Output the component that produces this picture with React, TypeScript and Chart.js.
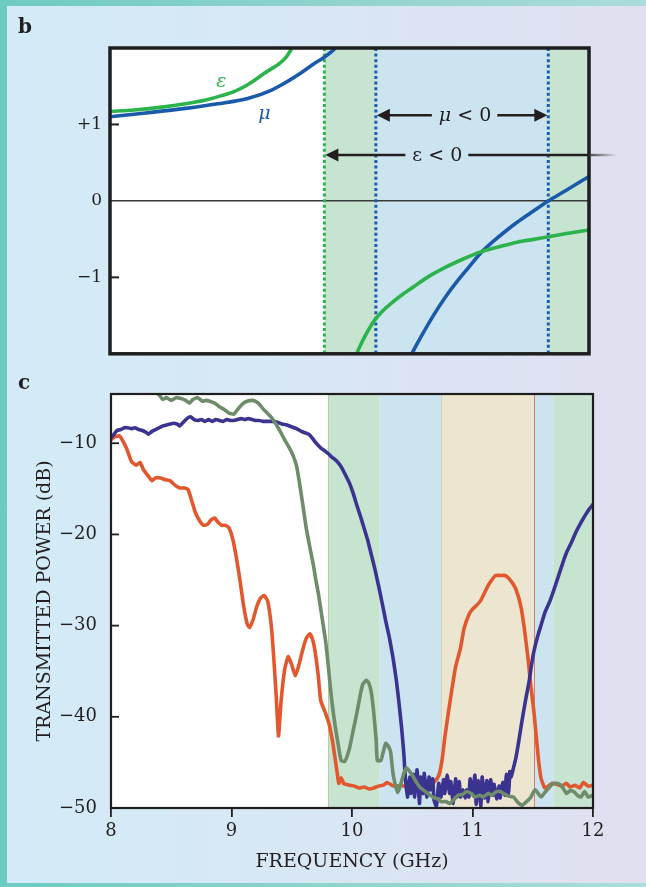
import React, { useEffect, useRef } from 'react';
import { Chart, registerables } from 'chart.js';

Chart.register(...registerables);

const SERIF = '"DejaVu Serif", "Liberation Serif", serif';
const INK = '#231f20';

// ---------- Panel b : ε and μ versus frequency (GHz) ----------
const epsLowFreq = [8.0, 8.2, 8.4, 8.63, 8.8, 8.94, 9.05, 9.15, 9.21, 9.28, 9.35, 9.4, 9.46, 9.52, 9.56];
const epsLowVal = [1.17, 1.19, 1.22, 1.27, 1.32, 1.38, 1.44, 1.52, 1.58, 1.66, 1.73, 1.78, 1.86, 2.0, 2.12];
const epsHighFreq = [10.0, 10.06, 10.1, 10.15, 10.21, 10.27, 10.34, 10.42, 10.52, 10.65, 10.8, 10.95, 11.09, 11.25, 11.4, 11.55, 11.66, 11.8, 12.0];
const epsHighVal = [-2.3, -2.0, -1.86, -1.71, -1.56, -1.45, -1.35, -1.25, -1.14, -1.0, -0.87, -0.76, -0.67, -0.6, -0.54, -0.5, -0.47, -0.43, -0.38];
const muLowFreq = [8.0, 8.3, 8.63, 8.9, 9.15, 9.35, 9.49, 9.6, 9.7, 9.78, 9.84, 9.9, 9.95];
const muLowVal = [1.1, 1.15, 1.21, 1.27, 1.34, 1.45, 1.57, 1.68, 1.79, 1.87, 1.94, 2.03, 2.15];
const muHighFreq = [10.45, 10.52, 10.6, 10.7, 10.8, 10.9, 11.0, 11.09, 11.2, 11.3, 11.4, 11.5, 11.66, 11.8, 12.0];
const muHighVal = [-2.22, -2.0, -1.77, -1.5, -1.26, -1.05, -0.86, -0.69, -0.53, -0.4, -0.28, -0.17, 0.0, 0.13, 0.32];
const bYTicks = [-1, 0, 1];
const epsNegFrom = 9.79; // ε < 0 above this frequency
const muNegFrom = 10.22; // μ < 0 between these
const muNegTo = 11.66;

// ---------- Panel c : transmitted power (dB) ----------
const freqTicks = [8, 9, 10, 11, 12];
const powerTicks = [-50, -40, -30, -20, -10];

const orangeFreq = [8.0, 8.03, 8.07, 8.1, 8.13, 8.17, 8.21, 8.24, 8.27, 8.31, 8.34, 8.37, 8.41, 8.45, 8.49, 8.53, 8.57, 8.61, 8.64, 8.67, 8.7, 8.74, 8.77, 8.8, 8.83, 8.86, 8.89, 8.92, 8.95, 8.98, 9.01, 9.04, 9.07, 9.1, 9.13, 9.15, 9.18, 9.21, 9.24, 9.27, 9.3, 9.33, 9.35, 9.37, 9.39, 9.41, 9.44, 9.47, 9.5, 9.53, 9.56, 9.59, 9.62, 9.65, 9.67, 9.69, 9.72, 9.74, 9.78, 9.81, 9.84, 9.86, 9.88, 9.89, 9.91, 9.93, 9.95, 9.98, 10.02, 10.06, 10.1, 10.14, 10.18, 10.22, 10.26, 10.29, 10.33, 10.37, 10.41, 10.45, 10.5, 10.55, 10.6, 10.64, 10.68, 10.71, 10.73, 10.75, 10.77, 10.8, 10.83, 10.86, 10.9, 10.93, 10.97, 11.0, 11.04, 11.07, 11.1, 11.13, 11.16, 11.19, 11.23, 11.27, 11.3, 11.33, 11.36, 11.4, 11.43, 11.46, 11.48, 11.51, 11.53, 11.55, 11.57, 11.6, 11.63, 11.66, 11.7, 11.74, 11.78, 11.81, 11.85, 11.89, 11.92, 11.96, 12.0];
const orangeDb = [-9.6, -9.3, -9.2, -9.8, -10.6, -12.0, -12.4, -12.1, -12.9, -13.6, -14.1, -13.8, -13.8, -14.0, -14.1, -14.6, -14.9, -14.9, -15.1, -16.3, -17.6, -18.6, -19.0, -18.9, -18.4, -18.2, -18.7, -19.0, -19.0, -19.3, -20.5, -22.5, -25.0, -27.8, -29.8, -30.2, -29.3, -27.9, -27.0, -26.7, -27.3, -30.0, -33.4, -37.5, -42.1, -38.5, -34.9, -33.4, -34.3, -35.5, -34.3, -32.7, -31.4, -30.9, -31.4, -32.5, -35.5, -38.2, -39.6, -40.8, -42.8, -44.6, -46.4, -47.3, -46.7, -47.3, -47.4, -47.5, -47.6, -47.8, -47.7, -47.9, -47.8, -47.6, -47.5, -47.2, -47.5, -47.6, -47.5, -47.7, -47.6, -47.8, -47.6, -47.8, -47.2, -46.7, -46.0, -44.5, -42.3, -39.5, -36.9, -34.5, -32.5, -30.3, -28.8, -28.2, -27.7, -27.2, -26.4, -25.6, -25.0, -24.5, -24.5, -24.5, -24.8, -25.3, -26.0, -27.8, -30.3, -33.5, -36.1, -39.5, -42.3, -45.0, -46.8, -47.8, -47.6, -47.3, -47.4, -47.6, -47.3, -47.7, -47.5, -47.8, -47.2, -47.6, -47.5];

const navyFreq = [8.0, 8.02, 8.05, 8.08, 8.11, 8.14, 8.17, 8.2, 8.23, 8.26, 8.29, 8.31, 8.34, 8.37, 8.4, 8.43, 8.46, 8.49, 8.52, 8.55, 8.57, 8.6, 8.63, 8.66, 8.69, 8.72, 8.75, 8.78, 8.81, 8.84, 8.87, 8.9, 8.93, 8.96, 8.99, 9.02, 9.05, 9.08, 9.11, 9.14, 9.17, 9.2, 9.23, 9.26, 9.3, 9.34, 9.38, 9.42, 9.46, 9.5, 9.54, 9.58, 9.62, 9.65, 9.68, 9.71, 9.74, 9.77, 9.8, 9.83, 9.86, 9.89, 9.92, 9.95, 9.98, 10.01, 10.04, 10.07, 10.1, 10.13, 10.16, 10.19, 10.22, 10.25, 10.28, 10.31, 10.34, 10.37, 10.39, 10.41, 10.43, 10.44, 10.46, 10.48, 10.49, 10.51, 10.52, 10.54, 10.56, 10.57, 10.59, 10.6, 10.62, 10.64, 10.65, 10.67, 10.68, 10.7, 10.72, 10.74, 10.76, 10.77, 10.79, 10.81, 10.82, 10.84, 10.86, 10.87, 10.89, 10.9, 10.92, 10.94, 10.95, 10.97, 10.98, 11.0, 11.02, 11.03, 11.05, 11.07, 11.08, 11.1, 11.12, 11.13, 11.15, 11.17, 11.18, 11.2, 11.22, 11.23, 11.25, 11.27, 11.28, 11.3, 11.31, 11.32, 11.34, 11.36, 11.38, 11.41, 11.44, 11.47, 11.49, 11.51, 11.54, 11.57, 11.6, 11.64, 11.68, 11.72, 11.75, 11.78, 11.82, 11.86, 11.9, 11.94, 11.97, 12.0];
const navyDb = [-9.4, -9.1, -8.6, -8.5, -8.3, -8.3, -8.4, -8.3, -8.5, -8.6, -8.8, -9.0, -8.7, -8.5, -8.3, -8.1, -8.0, -7.9, -7.8, -7.9, -8.1, -7.7, -7.3, -7.1, -7.4, -7.5, -7.4, -7.6, -7.4, -7.6, -7.4, -7.5, -7.6, -7.4, -7.5, -7.5, -7.4, -7.3, -7.4, -7.3, -7.4, -7.5, -7.5, -7.6, -7.6, -7.6, -7.7, -7.9, -8.0, -8.2, -8.4, -8.7, -8.9, -9.1, -9.6, -10.1, -10.5, -10.8, -11.1, -11.5, -11.8, -12.2, -12.8, -13.6, -14.4, -15.5, -16.8, -18.0, -19.3, -20.6, -22.2, -23.8, -25.6, -27.5, -29.5, -31.3, -33.5, -36.2, -38.5, -41.0, -44.0, -46.2, -48.8, -46.6, -48.4, -46.3, -48.8, -45.8, -49.5, -46.6, -48.4, -46.2, -48.8, -46.6, -48.0, -46.8, -49.1, -49.8, -47.3, -48.8, -46.9, -48.4, -46.4, -48.4, -47.1, -49.5, -46.8, -48.8, -47.1, -48.8, -48.0, -48.9, -48.0, -48.8, -46.8, -48.4, -46.4, -49.6, -47.0, -49.8, -46.6, -48.9, -47.0, -49.3, -46.9, -48.6, -47.4, -49.0, -47.6, -48.9, -47.2, -48.6, -46.3, -48.4, -46.0, -46.6, -45.6, -44.5, -43.0, -40.5, -38.2, -36.1, -34.3, -32.8, -31.2, -29.9, -28.6, -27.4, -25.9, -24.3, -23.1, -22.0, -20.9, -19.7, -18.7, -17.8, -17.2, -16.7];

const greenFreq = [8.0, 8.2, 8.35, 8.4, 8.43, 8.46, 8.5, 8.54, 8.58, 8.62, 8.65, 8.68, 8.72, 8.76, 8.79, 8.82, 8.86, 8.9, 8.94, 8.98, 9.02, 9.05, 9.09, 9.13, 9.17, 9.2, 9.23, 9.26, 9.29, 9.32, 9.36, 9.4, 9.44, 9.48, 9.51, 9.54, 9.56, 9.58, 9.6, 9.62, 9.65, 9.68, 9.7, 9.72, 9.75, 9.78, 9.8, 9.83, 9.86, 9.89, 9.91, 9.94, 9.96, 9.98, 10.01, 10.04, 10.07, 10.09, 10.12, 10.14, 10.16, 10.18, 10.2, 10.21, 10.24, 10.26, 10.28, 10.3, 10.32, 10.34, 10.36, 10.38, 10.4, 10.43, 10.45, 10.48, 10.51, 10.54, 10.57, 10.61, 10.64, 10.67, 10.71, 10.74, 10.78, 10.81, 10.85, 10.88, 10.92, 10.95, 10.99, 11.02, 11.06, 11.09, 11.13, 11.16, 11.2, 11.23, 11.27, 11.3, 11.34, 11.37, 11.41, 11.44, 11.48, 11.5, 11.52, 11.55, 11.57, 11.6, 11.64, 11.67, 11.71, 11.74, 11.78, 11.81, 11.84, 11.87, 11.9, 11.93, 11.96, 12.0];
const greenDb = [-1.5, -3.0, -4.2, -4.7, -5.2, -5.0, -5.3, -5.0, -5.1, -5.3, -5.6, -5.2, -5.0, -5.4, -5.3, -5.4, -5.6, -6.0, -6.3, -6.7, -6.8, -6.3, -5.7, -5.4, -5.3, -5.4, -5.7, -6.2, -6.6, -7.0, -7.7, -8.6, -9.6, -10.5, -11.3, -12.5, -14.0, -15.7, -17.5, -19.3, -21.4, -23.4, -25.0, -26.4, -29.0, -31.6, -34.0, -38.0, -41.0, -43.4, -44.8, -44.9, -44.3, -43.4, -41.5, -39.6, -37.5, -36.4, -36.0, -36.3, -37.3, -39.5, -42.5, -44.8, -44.8, -43.8, -42.9, -43.2, -43.8, -46.2, -47.5, -48.3, -47.6, -46.2, -45.6, -46.0, -46.6, -47.3, -47.8, -48.2, -48.5, -48.8, -49.0, -49.3, -49.3, -49.5, -49.0, -48.6, -48.5, -48.2, -48.4, -48.8, -48.6, -48.8, -48.4, -48.6, -48.2, -48.2, -48.5, -48.7, -48.8, -49.3, -49.7, -49.4, -48.9, -48.4, -48.0, -48.5, -48.8, -48.3, -47.7, -47.3, -47.3, -47.6, -48.4, -48.1, -48.2, -48.6, -48.8, -48.2, -48.8, -48.6];

// shaded regions of panel c (GHz)
const bandFromC = [9.8, 10.23, 10.74, 11.51, 11.67];
const bandToC = [10.23, 10.74, 11.51, 11.67, 12.0];

const GREEN_BAND = '#c6e4d0';
const BLUE_BAND = '#cce4f0';
const TAN_BAND = '#ece6d1';

function series(fs: number[], vs: number[], color: string, width: number, smooth: boolean) {
  return {
    data: fs.map((f, i) => ({ x: f, y: vs[i] })),
    borderColor: color,
    backgroundColor: color,
    borderWidth: width,
    pointRadius: 0,
    fill: false,
    clip: 0,
    tension: smooth ? 0.4 : 0.15,
    cubicInterpolationMode: smooth ? 'monotone' : 'default',
    borderJoinStyle: 'round',
    borderCapStyle: 'round',
  } as any;
}

function arrowHead(ctx: CanvasRenderingContext2D, tipX: number, y: number, dir: number) {
  ctx.beginPath();
  ctx.moveTo(tipX, y);
  ctx.lineTo(tipX - dir * 13, y - 6.5);
  ctx.lineTo(tipX - dir * 13, y + 6.5);
  ctx.closePath();
  ctx.fill();
}

const panelBPlugin = {
  id: 'panelB',
  beforeDraw(chart: any) {
    const { ctx, chartArea: a, scales } = chart;
    const x = scales.x;
    ctx.save();
    ctx.fillStyle = '#ffffff';
    ctx.fillRect(a.left, a.top, a.right - a.left, a.bottom - a.top);
    const band = (f0: number, f1: number, c: string) => {
      const p0 = x.getPixelForValue(f0);
      const p1 = x.getPixelForValue(f1);
      ctx.fillStyle = c;
      ctx.fillRect(p0, a.top, p1 - p0, a.bottom - a.top);
    };
    band(epsNegFrom, muNegFrom, GREEN_BAND);
    band(muNegFrom, muNegTo, BLUE_BAND);
    band(muNegTo, 12, GREEN_BAND);
    ctx.restore();
  },
  beforeDatasetsDraw(chart: any) {
    const { ctx, chartArea: a, scales } = chart;
    const x = scales.x;
    ctx.save();
    ctx.lineWidth = 3;
    ctx.setLineDash([3, 2.6]);
    const vline = (f: number, c: string) => {
      const px = x.getPixelForValue(f);
      ctx.strokeStyle = c;
      ctx.beginPath();
      ctx.moveTo(px, a.top);
      ctx.lineTo(px, a.bottom);
      ctx.stroke();
    };
    vline(epsNegFrom, '#2db34b');
    vline(muNegFrom, '#1a5eb0');
    vline(muNegTo, '#1a5eb0');
    ctx.restore();
  },
  afterDraw(chart: any) {
    const { ctx, chartArea: a, scales } = chart;
    const x = scales.x;
    const y = scales.y;
    ctx.save();
    // frame
    ctx.strokeStyle = '#1e1e1e';
    ctx.lineWidth = 3.5;
    ctx.strokeRect(a.left, a.top, a.right - a.left, a.bottom - a.top);
    // inward ticks at ±1
    ctx.lineWidth = 2;
    ctx.strokeStyle = INK;
    bYTicks.forEach((v) => {
      if (v === 0) return;
      const py = y.getPixelForValue(v);
      ctx.beginPath();
      ctx.moveTo(a.left, py);
      ctx.lineTo(a.left + 9, py);
      ctx.stroke();
    });
    // curve labels
    ctx.textAlign = 'center';
    ctx.textBaseline = 'middle';
    ctx.font = `italic 19px ${SERIF}`;
    ctx.fillStyle = '#2db34b';
    ctx.fillText('ε', x.getPixelForValue(8.93), y.getPixelForValue(1.56));
    ctx.fillStyle = '#1a5aab';
    ctx.fillText('μ', x.getPixelForValue(9.29), y.getPixelForValue(1.13));

    ctx.fillStyle = INK;
    ctx.strokeStyle = INK;
    ctx.lineWidth = 2.4;
    // μ < 0 arrow
    const y1 = y.getPixelForValue(1.12);
    const l1 = x.getPixelForValue(muNegFrom);
    const r1 = x.getPixelForValue(muNegTo);
    ctx.font = `italic 19px ${SERIF}`;
    const wMu = ctx.measureText('μ').width;
    ctx.font = `19px ${SERIF}`;
    const wRest = ctx.measureText(' < 0').width;
    const tw1 = wMu + wRest;
    const c1 = (l1 + r1) / 2 + 3;
    const t1 = c1 - tw1 / 2;
    ctx.beginPath();
    ctx.moveTo(l1 + 8, y1);
    ctx.lineTo(t1 - 7, y1);
    ctx.moveTo(t1 + tw1 + 6, y1);
    ctx.lineTo(r1 - 8, y1);
    ctx.stroke();
    arrowHead(ctx, l1 + 1, y1, -1);
    arrowHead(ctx, r1 - 1, y1, 1);
    ctx.textAlign = 'left';
    ctx.font = `italic 19px ${SERIF}`;
    ctx.fillText('μ', t1, y1 + 1);
    ctx.font = `19px ${SERIF}`;
    ctx.fillText(' < 0', t1 + wMu, y1 + 1);

    // ε < 0 arrow
    const y2 = y.getPixelForValue(0.6);
    const l2 = x.getPixelForValue(epsNegFrom);
    ctx.font = `19px ${SERIF}`;
    const tw2 = ctx.measureText('ε < 0').width;
    const c2 = (l2 + r1) / 2 + 1;
    const t2 = c2 - tw2 / 2;
    ctx.beginPath();
    ctx.moveTo(l2 + 8, y2);
    ctx.lineTo(t2 - 7, y2);
    ctx.moveTo(t2 + tw2 + 6, y2);
    ctx.lineTo(a.right, y2);
    ctx.stroke();
    const g = ctx.createLinearGradient(a.right, 0, a.right + 28, 0);
    g.addColorStop(0, 'rgba(60,60,50,0.9)');
    g.addColorStop(1, 'rgba(60,60,50,0)');
    ctx.strokeStyle = g;
    ctx.beginPath();
    ctx.moveTo(a.right, y2);
    ctx.lineTo(a.right + 28, y2);
    ctx.stroke();
    arrowHead(ctx, l2 + 1, y2, -1);
    ctx.fillText('ε < 0', t2, y2 + 1);
    ctx.restore();
  },
};

const panelCPlugin = {
  id: 'panelC',
  beforeDraw(chart: any) {
    const { ctx, chartArea: a, scales } = chart;
    const x = scales.x;
    const colors = [GREEN_BAND, BLUE_BAND, TAN_BAND, BLUE_BAND, GREEN_BAND];
    ctx.save();
    ctx.fillStyle = '#ffffff';
    ctx.fillRect(a.left, a.top, a.right - a.left, a.bottom - a.top);
    bandFromC.forEach((f0, i) => {
      const p0 = x.getPixelForValue(f0);
      const p1 = x.getPixelForValue(bandToC[i]);
      ctx.fillStyle = colors[i];
      ctx.fillRect(p0, a.top, p1 - p0, a.bottom - a.top);
    });
    ctx.lineWidth = 1;
    const edge = (f: number, c: string) => {
      const px = Math.round(x.getPixelForValue(f)) + 0.5;
      ctx.strokeStyle = c;
      ctx.beginPath();
      ctx.moveTo(px, a.top);
      ctx.lineTo(px, a.bottom);
      ctx.stroke();
    };
    edge(bandFromC[0], '#b9c9a2');
    edge(bandFromC[2], '#d9d2bb');
    edge(bandFromC[3], '#e07a68');
    ctx.restore();
  },
  afterDraw(chart: any) {
    const { ctx, chartArea: a, scales } = chart;
    const y = scales.y;
    ctx.save();
    ctx.strokeStyle = '#1e1e1e';
    ctx.lineWidth = 2.2;
    ctx.strokeRect(a.left, a.top, a.right - a.left, a.bottom - a.top);
    ctx.lineWidth = 1.8;
    powerTicks.forEach((v) => {
      const py = y.getPixelForValue(v);
      ctx.beginPath();
      ctx.moveTo(a.left, py);
      ctx.lineTo(a.left + 8, py);
      ctx.stroke();
    });
    ctx.restore();
  },
};

const minus = (v: number) => (v < 0 ? '\u2212' + Math.abs(v) : String(v));

export default function App() {
  const bRef = useRef<HTMLCanvasElement>(null);
  const cRef = useRef<HTMLCanvasElement>(null);

  useEffect(() => {
    const chartB = new Chart(bRef.current as HTMLCanvasElement, {
      type: 'line',
      data: {
        datasets: [
          series(epsLowFreq, epsLowVal, '#2db34b', 3.6, true),
          series(epsHighFreq, epsHighVal, '#2db34b', 3.6, true),
          series(muLowFreq, muLowVal, '#1a5aab', 3.6, true),
          series(muHighFreq, muHighVal, '#1a5aab', 3.6, true),
        ],
      },
      options: {
        responsive: false,
        animation: false,
        devicePixelRatio: 1,
        events: [],
        layout: { padding: { top: 48, right: 57, bottom: 14, left: 0 } },
        plugins: { legend: { display: false }, tooltip: { enabled: false } },
        scales: {
          x: { type: 'linear', min: 8, max: 12, display: false },
          y: {
            type: 'linear',
            min: -2,
            max: 2,
            afterFit: (s: any) => {
              s.width = 110;
            },
            ticks: {
              stepSize: 1,
              padding: 8,
              color: INK,
              font: { family: SERIF, size: 17 },
              callback: (v: any) => (bYTicks.includes(v) ? (v > 0 ? '+' + v : minus(v)) : ''),
            },
            grid: {
              drawTicks: false,
              color: (c: any) => (c.tick && c.tick.value === 0 ? '#3a3a3a' : 'rgba(0,0,0,0)'),
              lineWidth: 1.6,
            },
            border: { display: false },
          },
        },
      } as any,
      plugins: [panelBPlugin],
    });

    const chartC = new Chart(cRef.current as HTMLCanvasElement, {
      type: 'line',
      data: {
        datasets: [
          series(greenFreq, greenDb, '#6e8c69', 3.6, false),
          series(navyFreq, navyDb, '#3a3490', 3.6, false),
          series(orangeFreq, orangeDb, '#e1582e', 3.6, false),
        ],
      },
      options: {
        responsive: false,
        animation: false,
        devicePixelRatio: 1,
        events: [],
        layout: { padding: { top: 22, right: 53, bottom: 0, left: 0 } },
        plugins: { legend: { display: false }, tooltip: { enabled: false } },
        scales: {
          x: {
            type: 'linear',
            min: 8,
            max: 12,
            afterFit: (s: any) => {
              s.height = 79;
            },
            afterBuildTicks: (s: any) => {
              s.ticks = freqTicks.map((v) => ({ value: v }));
            },
            ticks: {
              padding: 4,
              color: INK,
              font: { family: SERIF, size: 18 },
              maxRotation: 0,
              callback: (v: any) => String(v),
            },
            grid: { drawOnChartArea: false, drawTicks: true, tickLength: 9, color: INK, lineWidth: 1.8 },
            border: { display: false },
            title: {
              display: true,
              text: 'FREQUENCY (GHz)',
              color: INK,
              font: { family: SERIF, size: 19 },
              padding: { top: 0, bottom: 14 },
            },
          },
          y: {
            type: 'linear',
            min: -50,
            max: -4.6,
            afterFit: (s: any) => {
              s.width = 111;
            },
            afterBuildTicks: (s: any) => {
              s.ticks = powerTicks.map((v) => ({ value: v }));
            },
            ticks: {
              padding: 6,
              color: INK,
              font: { family: SERIF, size: 18 },
              callback: (v: any) => minus(v),
            },
            grid: { display: false },
            border: { display: false },
            title: {
              display: true,
              text: 'TRANSMITTED POWER (dB)',
              color: INK,
              font: { family: SERIF, size: 19 },
              padding: { top: 34, bottom: 0 },
            },
          },
        },
      } as any,
      plugins: [panelCPlugin],
    });

    return () => {
      chartB.destroy();
      chartC.destroy();
    };
  }, []);

  const stripGrad = 'linear-gradient(90deg, #6ecbc1 0%, #8fd3cd 50%, #a9dcdb 100%)';

  return (
    <div
      style={{
        position: 'absolute',
        left: 0,
        top: 0,
        width: 646,
        height: 887,
        overflow: 'hidden',
        background: 'linear-gradient(90deg, #d3ebf8 0%, #d8e7f5 45%, #e0dff0 100%)',
      }}
    >
      <div style={{ position: 'absolute', left: 0, top: 0, width: 646, height: 6, background: stripGrad }} />
      <div style={{ position: 'absolute', left: 0, top: 883, width: 646, height: 4, background: stripGrad }} />
      <div style={{ position: 'absolute', left: 0, top: 0, width: 7, height: 887, background: '#6ecbc1' }} />
      <canvas ref={bRef} width={646} height={372} style={{ position: 'absolute', left: 0, top: 0, width: 646, height: 372 }} />
      <canvas ref={cRef} width={646} height={515} style={{ position: 'absolute', left: 0, top: 372, width: 646, height: 515 }} />
      <div
        style={{
          position: 'absolute',
          left: 18,
          top: 16,
          font: `bold 20px ${SERIF}`,
          lineHeight: '20px',
          color: INK,
        }}
      >
        b
      </div>
      <div
        style={{
          position: 'absolute',
          left: 18,
          top: 372,
          font: `bold 20px ${SERIF}`,
          lineHeight: '20px',
          color: INK,
        }}
      >
        c
      </div>
    </div>
  );
}
